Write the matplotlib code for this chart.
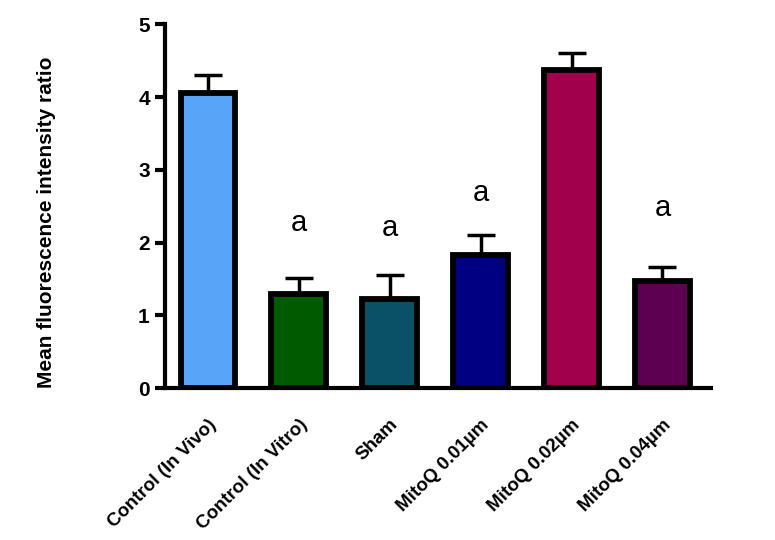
import matplotlib
matplotlib.use("Agg")
import matplotlib.pyplot as plt

# group names, bar heights, error (upper) and significance letters
groups = ["Control (In Vivo)", "Control (In Vitro)", "Sham",
          "MitoQ 0.01\u00b5m", "MitoQ 0.02\u00b5m", "MitoQ 0.04\u00b5m"]
means = [4.06, 1.29, 1.23, 1.83, 4.37, 1.48]
errors = [0.24, 0.23, 0.33, 0.28, 0.23, 0.18]
letters = ["", "a", "a", "a", "", "a"]
letter_y = [0, 2.08, 2.01, 2.49, 0, 2.29]
colors = ["#58A4F8", "#005A00", "#0A5066", "#000082", "#A0004C", "#5E0052"]

plt.rcParams['font.family'] = ['Liberation Sans', 'DejaVu Sans']

fig = plt.figure(figsize=(7.75, 5.4), dpi=100)
ax = fig.add_axes([0.213, 0.281, 0.704, 0.674])

x = list(range(len(groups)))
ax.bar(x, means, width=0.6, color=colors, edgecolor="black", linewidth=4.2, zorder=2)
ax.errorbar(x, means, yerr=[[0] * len(errors), errors], fmt="none", ecolor="black",
            elinewidth=2.5, capsize=10, capthick=2.5, zorder=1)

for xi, lt, ly in zip(x, letters, letter_y):
    if lt:
        ax.text(xi, ly, lt, ha="center", va="bottom", fontsize=21)

ax.set_xlim(-0.47, 5.53)
ax.set_ylim(0, 5)
ax.set_yticks([0, 1, 2, 3, 4, 5])
ax.set_xticks(x)
ax.set_xticklabels(groups, rotation=45, ha="right", rotation_mode="anchor",
                   fontsize=13.5, fontweight="bold")
for lab in ax.get_yticklabels():
    lab.set_fontweight("bold")
    lab.set_fontsize(15)
ax.tick_params(axis="x", length=0, pad=20)
ax.tick_params(axis="y", length=7, width=3, pad=4)
ax.spines["top"].set_visible(False)
ax.spines["right"].set_visible(False)
ax.spines["left"].set_linewidth(3)
ax.spines["bottom"].set_linewidth(3)
ax.set_ylabel("Mean fluorescence intensity ratio", fontsize=15, fontweight="bold")
ax.yaxis.set_label_coords(-0.2, 0.456)

fig.savefig("out.png", dpi=100)
